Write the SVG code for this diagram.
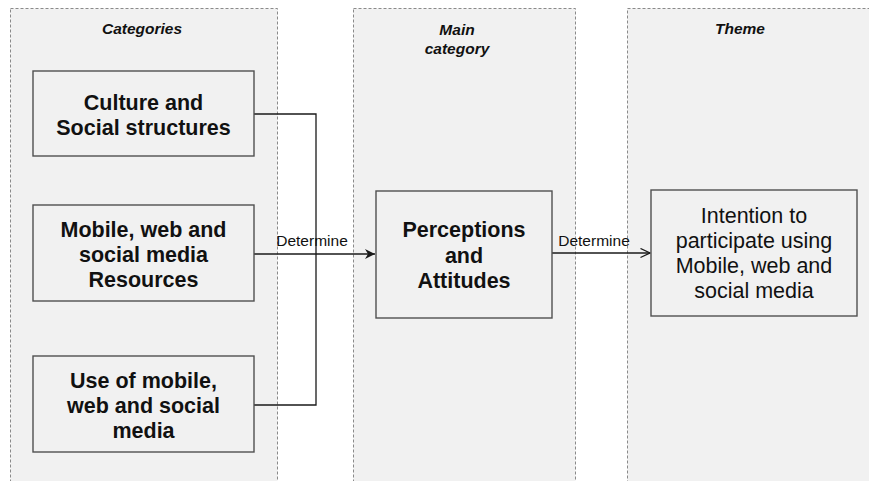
<svg xmlns="http://www.w3.org/2000/svg" width="869" height="481" viewBox="0 0 869 481">
  <style>
    .lane { fill: #f1f1f1; stroke: #8a8a8a; stroke-width: 1; stroke-dasharray: 3 2; }
    .box { fill: #f1f1f1; stroke: #505050; stroke-width: 1.4; }
    .head { font-family: "Liberation Sans", Arial, sans-serif; font-size: 15.5px; font-weight: bold; font-style: italic; fill: #111; text-anchor: middle; }
    .bold { font-family: "Liberation Sans", Arial, sans-serif; font-size: 21.5px; font-weight: bold; fill: #111; text-anchor: middle; }
    .reg { font-family: "Liberation Sans", Arial, sans-serif; font-size: 21.5px; fill: #111; text-anchor: middle; }
    .lbl { font-family: "Liberation Sans", Arial, sans-serif; font-size: 15.5px; fill: #111; text-anchor: middle; }
    .wire { fill: none; stroke: #1a1a1a; stroke-width: 1.3; }
  </style>
  <defs>
    <marker id="solidHead" markerWidth="12" markerHeight="12" refX="10" refY="5" orient="auto" markerUnits="userSpaceOnUse">
      <path d="M0,0 L10,5 L0,10 L3,5 Z" fill="#1a1a1a"/>
    </marker>
    <marker id="openHead" markerWidth="12" markerHeight="12" refX="10" refY="5" orient="auto" markerUnits="userSpaceOnUse">
      <path d="M0.5,0.5 L10,5 L0.5,9.5" fill="none" stroke="#1a1a1a" stroke-width="1.3"/>
    </marker>
  </defs>

  <rect width="869" height="481" fill="#ffffff"/>

  <!-- swimlanes -->
  <g id="lane-categories">
    <rect class="lane" x="10.5" y="8.5" width="267" height="490"/>
    <text class="head" x="142" y="34">Categories</text>
  </g>
  <g id="lane-main">
    <rect class="lane" x="353.5" y="8.5" width="222" height="490"/>
    <text class="head" x="457" y="35">Main</text>
    <text class="head" x="457" y="54">category</text>
  </g>
  <g id="lane-theme">
    <rect class="lane" x="627.5" y="8.5" width="260" height="490"/>
    <text class="head" x="740" y="34">Theme</text>
  </g>

  <!-- connectors -->
  <g id="connectors">
    <path class="wire" d="M254,114 H316 V405 H254"/>
    <path class="wire" d="M254,254 H316"/>
    <path class="wire" d="M316,254 H375" stroke-width="2" marker-end="url(#solidHead)"/>
    <text class="lbl" x="312" y="246">Determine</text>
    <path class="wire" d="M552,253 H650" marker-end="url(#openHead)"/>
    <text class="lbl" x="594" y="246">Determine</text>
  </g>

  <!-- nodes -->
  <g id="culture">
    <rect class="box" x="33" y="71" width="221" height="85"/>
    <text class="bold" x="143.5" y="110">Culture and</text>
    <text class="bold" x="143.5" y="135">Social structures</text>
  </g>
  <g id="resources">
    <rect class="box" x="33" y="205" width="221" height="96"/>
    <text class="bold" x="143.5" y="237">Mobile, web and</text>
    <text class="bold" x="143.5" y="262">social media</text>
    <text class="bold" x="143.5" y="287">Resources</text>
  </g>
  <g id="usage">
    <rect class="box" x="33" y="356" width="221" height="96"/>
    <text class="bold" x="143.5" y="388">Use of mobile,</text>
    <text class="bold" x="143.5" y="413">web and social</text>
    <text class="bold" x="143.5" y="438">media</text>
  </g>
  <g id="perceptions">
    <rect class="box" x="376" y="191" width="176" height="127"/>
    <text class="bold" x="464" y="237">Perceptions</text>
    <text class="bold" x="464" y="263">and</text>
    <text class="bold" x="464" y="288">Attitudes</text>
  </g>
  <g id="intention">
    <rect class="box" x="651" y="190" width="206" height="126"/>
    <text class="reg" x="754" y="223">Intention to</text>
    <text class="reg" x="754" y="248">participate using</text>
    <text class="reg" x="754" y="273">Mobile, web and</text>
    <text class="reg" x="754" y="298">social media</text>
  </g>
</svg>
